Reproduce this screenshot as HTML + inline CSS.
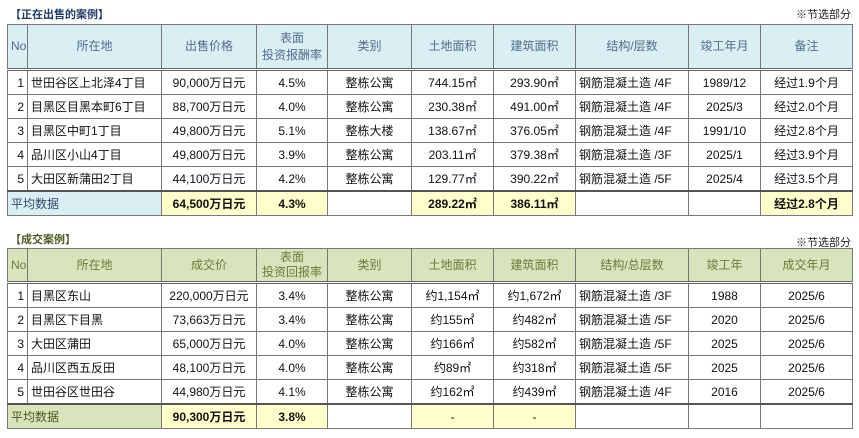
<!DOCTYPE html>
<html><head><meta charset="utf-8"><style>
body{margin:0;width:859px;height:438px;background:#fff;font-family:"Liberation Sans","Noto Sans CJK SC",sans-serif;position:relative;overflow:hidden}
.t{position:absolute;font-size:11px;font-weight:bold}
.n{position:absolute;font-size:11px;color:#222;right:8px}
table{position:absolute;left:7px;border-collapse:collapse;table-layout:fixed;width:845px;font-size:12px;color:#111}
td{border:1px solid #777;padding:0 3px;text-align:center;height:23px;white-space:nowrap;overflow:hidden}
tr.h td{line-height:17px;border-bottom:3px double #666}
.A tr.h td{height:43px}
.B tr.h td{height:32px;line-height:15px}
tr.a td{border-top:2px solid #555;height:23px}
.A tr.h td{background:#daeef3;color:#4f6d8c}
.B tr.h td{background:#d8e4bc;color:#6b7a3a}
.A tr.a td.l{background:#daeef3;color:#2c4a6a;text-align:left}
.B tr.a td.l{background:#d8e4bc;color:#4a5a20;text-align:left}
td.y{background:#ffffcc;font-weight:bold}
td.r{text-align:right}
td.L{text-align:left}
</style></head><body>
<div class="t" style="left:10px;top:6px;color:#1f3864">【正在出售的案例】</div>
<div class="n" style="top:6px">※节选部分</div>
<table class="A" style="top:24px">
<colgroup><col style="width:20px"><col style="width:134px"><col style="width:95px"><col style="width:71px"><col style="width:84px"><col style="width:82px"><col style="width:82px"><col style="width:113px"><col style="width:72px"><col style="width:92px"></colgroup>
<tr class="h"><td>No</td><td>所在地</td><td>出售价格</td><td>表面<br>投资报酬率</td><td>类别</td><td>土地面积</td><td>建筑面积</td><td>结构/层数</td><td>竣工年月</td><td>备注</td></tr>
<tr><td class="r">1</td><td class="L">世田谷区上北泽4丁目</td><td>90,000万日元</td><td>4.5%</td><td>整栋公寓</td><td>744.15㎡</td><td>293.90㎡</td><td class="L">钢筋混凝土造 /4F</td><td>1989/12</td><td>经过1.9个月</td></tr>
<tr><td class="r">2</td><td class="L">目黑区目黑本町6丁目</td><td>88,700万日元</td><td>4.0%</td><td>整栋公寓</td><td>230.38㎡</td><td>491.00㎡</td><td class="L">钢筋混凝土造 /4F</td><td>2025/3</td><td>经过2.0个月</td></tr>
<tr><td class="r">3</td><td class="L">目黑区中町1丁目</td><td>49,800万日元</td><td>5.1%</td><td>整栋大楼</td><td>138.67㎡</td><td>376.05㎡</td><td class="L">钢筋混凝土造 /4F</td><td>1991/10</td><td>经过2.8个月</td></tr>
<tr><td class="r">4</td><td class="L">品川区小山4丁目</td><td>49,800万日元</td><td>3.9%</td><td>整栋公寓</td><td>203.11㎡</td><td>379.38㎡</td><td class="L">钢筋混凝土造 /3F</td><td>2025/1</td><td>经过3.9个月</td></tr>
<tr><td class="r">5</td><td class="L">大田区新蒲田2丁目</td><td>44,100万日元</td><td>4.2%</td><td>整栋公寓</td><td>129.77㎡</td><td>390.22㎡</td><td class="L">钢筋混凝土造 /5F</td><td>2025/4</td><td>经过3.5个月</td></tr>
<tr class="a"><td class="l" colspan="2">平均数据</td><td class="y">64,500万日元</td><td class="y">4.3%</td><td></td><td class="y">289.22㎡</td><td class="y">386.11㎡</td><td></td><td></td><td class="y">经过2.8个月</td></tr>
</table>
<div class="t" style="left:10px;top:231px;color:#4a5a20">【成交案例】</div>
<div class="n" style="top:234px">※节选部分</div>
<table class="B" style="top:248px">
<colgroup><col style="width:20px"><col style="width:134px"><col style="width:95px"><col style="width:71px"><col style="width:84px"><col style="width:82px"><col style="width:82px"><col style="width:113px"><col style="width:72px"><col style="width:92px"></colgroup>
<tr class="h"><td>No</td><td>所在地</td><td>成交价</td><td>表面<br>投资回报率</td><td>类别</td><td>土地面积</td><td>建筑面积</td><td>结构/总层数</td><td>竣工年</td><td>成交年月</td></tr>
<tr><td class="r">1</td><td class="L">目黑区东山</td><td>220,000万日元</td><td>3.4%</td><td>整栋公寓</td><td>约1,154㎡</td><td>约1,672㎡</td><td class="L">钢筋混凝土造 /3F</td><td>1988</td><td>2025/6</td></tr>
<tr><td class="r">2</td><td class="L">目黑区下目黑</td><td>73,663万日元</td><td>3.4%</td><td>整栋公寓</td><td>约155㎡</td><td>约482㎡</td><td class="L">钢筋混凝土造 /5F</td><td>2020</td><td>2025/6</td></tr>
<tr><td class="r">3</td><td class="L">大田区蒲田</td><td>65,000万日元</td><td>4.0%</td><td>整栋公寓</td><td>约166㎡</td><td>约582㎡</td><td class="L">钢筋混凝土造 /5F</td><td>2025</td><td>2025/6</td></tr>
<tr><td class="r">4</td><td class="L">品川区西五反田</td><td>48,100万日元</td><td>4.0%</td><td>整栋公寓</td><td>约89㎡</td><td>约318㎡</td><td class="L">钢筋混凝土造 /5F</td><td>2025</td><td>2025/6</td></tr>
<tr><td class="r">5</td><td class="L">世田谷区世田谷</td><td>44,980万日元</td><td>4.1%</td><td>整栋公寓</td><td>约162㎡</td><td>约439㎡</td><td class="L">钢筋混凝土造 /4F</td><td>2016</td><td>2025/6</td></tr>
<tr class="a"><td class="l" colspan="2">平均数据</td><td class="y">90,300万日元</td><td class="y">3.8%</td><td></td><td class="y" style="font-weight:normal">-</td><td class="y" style="font-weight:normal">-</td><td></td><td></td><td></td></tr>
</table>
</body></html>
